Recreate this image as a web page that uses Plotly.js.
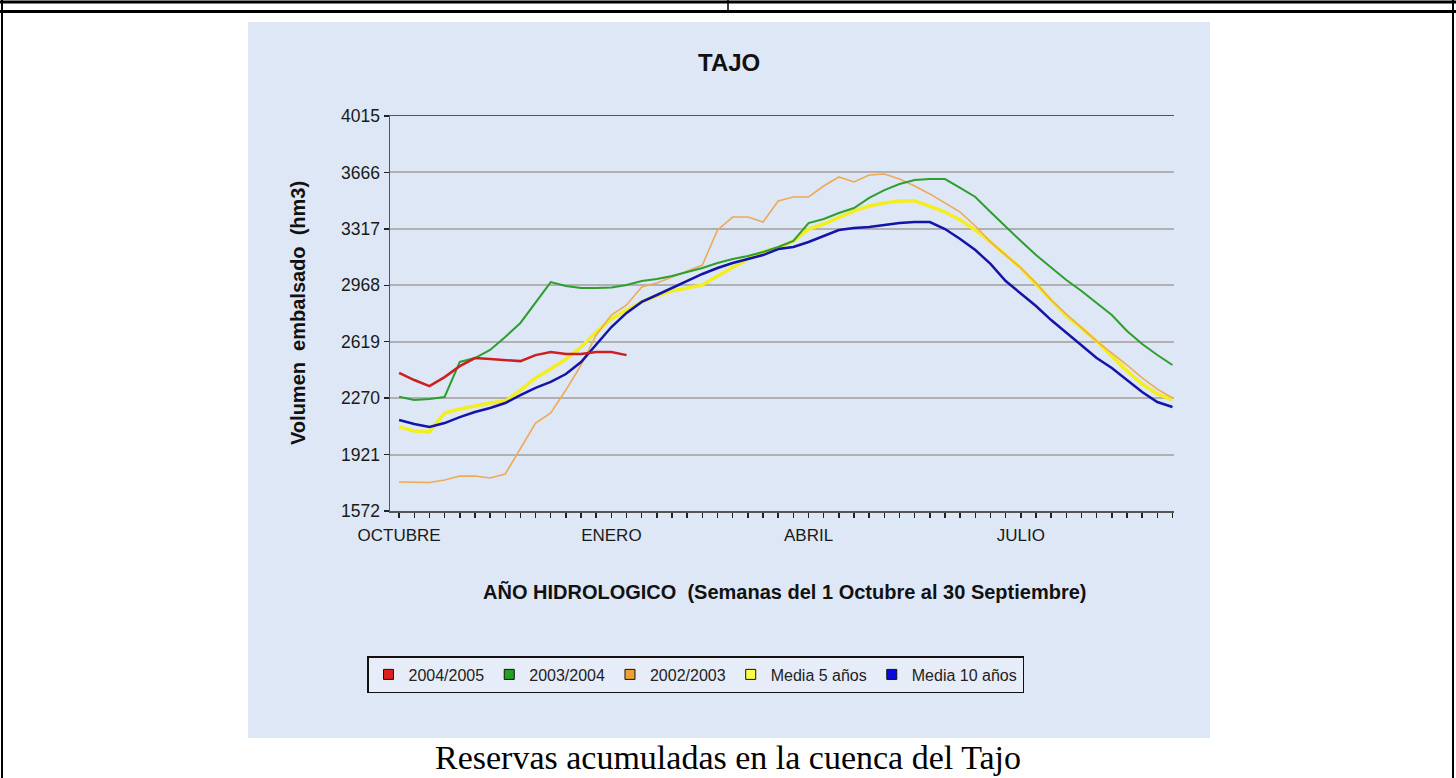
<!DOCTYPE html>
<html>
<head>
<meta charset="utf-8">
<script src="https://cdn.plot.ly/plotly-3.0.1.min.js"></script>
<style>html,body{margin:0;padding:0;background:#fff;}#chart{width:1456px;height:778px;}</style>
</head>
<body>
<div id="chart"></div>
<script>
// Week index of the hydrological year (week 0 = 1 October)
const weeks = [0,1,2,3,4,5,6,7,8,9,10,11,12,13,14,15,16,17,18,19,20,21,22,23,24,25,
               26,27,28,29,30,31,32,33,34,35,36,37,38,39,40,41,42,43,44,45,46,47,48,49,50,51];

const monthTickWeeks = [0, 14, 27, 41];
const monthTickLabels = ['OCTUBRE', 'ENERO', 'ABRIL', 'JULIO'];
const yTicks = [1572, 1921, 2270, 2619, 2968, 3317, 3666, 4015];

const seriesNames = ['2004/2005', '2003/2004', '2002/2003', 'Media 5 años', 'Media 10 años'];

// Reserves in hm3
const s2004_2005 = [2427,2382,2344,2400,2468,2518,2512,2505,2499,2536,2555,2543,2543,2555,2555,2536];

const s2003_2004 = [2279,2259,2265,2277,2494,2518,2568,2648,2735,2865,2988,2964,2951,2951,2954,2970,
                    2994,3007,3025,3050,3075,3106,3131,3149,3174,3205,3242,3353,3378,3415,3446,3508,
                    3557,3594,3619,3625,3625,3570,3514,3421,3329,3242,3155,3075,3001,2933,2858,2784,
                    2685,2605,2537,2475];

const s2002_2003 = [1751,1748,1748,1764,1788,1788,1776,1801,1962,2116,2178,2320,2475,2661,2784,2846,
                    2957,2982,3019,3056,3093,3310,3390,3390,3359,3489,3514,3514,3582,3638,3607,3650,
                    3656,3625,3582,3533,3477,3421,3335,3236,3155,3075,2982,2877,2790,2704,2623,2549,
                    2475,2395,2326,2271];

const media5 = [2092,2067,2061,2178,2203,2221,2240,2252,2320,2395,2450,2512,2586,2679,2760,2815,
                2865,2902,2933,2951,2970,3025,3075,3131,3174,3199,3242,3316,3347,3390,3428,3458,
                3477,3489,3489,3458,3421,3372,3310,3236,3155,3075,2976,2877,2778,2704,2623,2531,
                2438,2357,2296,2259];

const media10 = [2135,2110,2092,2116,2153,2184,2209,2240,2289,2333,2370,2419,2493,2599,2710,2797,
                 2865,2908,2951,2994,3038,3075,3106,3131,3155,3192,3205,3236,3273,3310,3322,3329,
                 3341,3353,3359,3359,3316,3254,3186,3100,2994,2914,2840,2753,2673,2593,2518,2456,
                 2382,2308,2246,2215];

const lineColors = ['#cc2020', '#2e9e2e', '#eeaa55', '#f2ee22', '#1414a8'];
const legendColors = ['#dd1f1f', '#22a022', '#f0a030', '#ffff44', '#0a0ae0'];

const W = 1456, H = 778;
const px = v => v / W;
const py = v => 1 - v / H;

const dataSeries = [s2004_2005, s2003_2004, s2002_2003, media5, media10];
const widths = [2.5, 2, 1.6, 3.5, 2.5];
const drawOrder = [3, 2, 4, 1, 0];

const traces = [];
drawOrder.forEach(i => {
  traces.push({
    type: 'scatter', mode: 'lines',
    x: weeks.slice(0, dataSeries[i].length), y: dataSeries[i],
    line: {color: lineColors[i], width: widths[i]},
    showlegend: false, hoverinfo: 'skip'
  });
});
seriesNames.forEach((n, i) => {
  traces.push({
    type: 'scatter', mode: 'markers', name: n,
    x: [null], y: [null],
    marker: {symbol: 'square', size: 10, color: legendColors[i], line: {color: '#111', width: 1}},
    showlegend: true
  });
});

const font = 'Liberation Sans, Arial, sans-serif';

const layout = {
  width: W, height: H,
  margin: {l: 0, r: 0, t: 0, b: 0},
  paper_bgcolor: '#ffffff',
  plot_bgcolor: '#ffffff',
  showlegend: true,
  xaxis: {
    domain: [px(390), px(1174)],
    range: [-0.6, 51.1],
    tickmode: 'array', tickvals: monthTickWeeks, ticktext: monthTickLabels,
    ticks: 'outside', ticklen: 5, tickwidth: 1.5, tickcolor: '#222',
    minor: {tickmode: 'linear', tick0: 0, dtick: 1, ticks: 'outside', ticklen: 5, tickwidth: 1.5, tickcolor: '#222', showgrid: false},
    showgrid: false, zeroline: false,
    showline: true, linecolor: '#555', linewidth: 1.5, mirror: true,
    tickfont: {family: font, size: 17, color: '#1a1a1a'},
    ticklabelstandoff: 3,
    fixedrange: true
  },
  yaxis: {
    domain: [py(511), py(116)],
    range: [1572, 4015],
    tickmode: 'array', tickvals: yTicks, ticktext: yTicks.map(String),
    ticks: 'outside', ticklen: 5, tickwidth: 1.5, tickcolor: '#222',
    showgrid: true, gridcolor: '#b0b0b0', gridwidth: 2,
    zeroline: false,
    showline: true, linecolor: '#555', linewidth: 1.5,
    tickfont: {family: font, size: 17.5, color: '#1a1a1a'},
    fixedrange: true
  },
  legend: {
    orientation: 'h',
    x: px(367), xanchor: 'left',
    y: py(656), yanchor: 'top',
    bgcolor: '#e6edf8', bordercolor: '#111', borderwidth: 1.5,
    font: {family: font, size: 16, color: '#222'},
    itemwidth: 30
  },
  shapes: [
    {type: 'rect', xref: 'paper', yref: 'paper', x0: px(248), x1: px(1210), y0: py(738), y1: py(22),
     fillcolor: '#dde7f5', line: {width: 0}, layer: 'below'},
    {type: 'line', xref: 'paper', yref: 'paper', x0: 0, x1: 1, y0: py(2), y1: py(2), line: {color: '#000', width: 3}},
    {type: 'line', xref: 'paper', yref: 'paper', x0: 0, x1: 1, y0: py(11.5), y1: py(11.5), line: {color: '#000', width: 3}},
    {type: 'line', xref: 'paper', yref: 'paper', x0: px(728), x1: px(728), y0: py(0), y1: py(11.5), line: {color: '#000', width: 1.5}},
    {type: 'line', xref: 'paper', yref: 'paper', x0: px(2), x1: px(2), y0: py(0), y1: 0, line: {color: '#000', width: 2}},
    {type: 'line', xref: 'paper', yref: 'paper', x0: px(1453), x1: px(1453), y0: py(0), y1: 0, line: {color: '#000', width: 2}}
  ],
  annotations: [
    {text: '<b>TAJO</b>', xref: 'paper', yref: 'paper', x: px(729), y: py(62), showarrow: false,
     font: {family: font, size: 24, color: '#111'}, xanchor: 'center', yanchor: 'middle'},
    {text: '<b>Volumen  embalsado  (hm3)</b>', xref: 'paper', yref: 'paper', x: px(298), y: py(313), showarrow: false,
     textangle: -90, font: {family: font, size: 20, color: '#111'}, xanchor: 'center', yanchor: 'middle'},
    {text: '<b>AÑO HIDROLOGICO  (Semanas del 1 Octubre al 30 Septiembre)</b>', xref: 'paper', yref: 'paper',
     x: px(785), y: py(592), showarrow: false, font: {family: font, size: 20, color: '#111'}, xanchor: 'center', yanchor: 'middle'},
    {text: 'Reservas acumuladas en la cuenca del Tajo', xref: 'paper', yref: 'paper', x: px(728), y: py(757), showarrow: false,
     font: {family: 'Liberation Serif, Times New Roman, serif', size: 34, color: '#000'}, xanchor: 'center', yanchor: 'middle'}
  ]
};

Plotly.newPlot('chart', traces, layout, {displayModeBar: false, staticPlot: true});
</script>
</body>
</html>
